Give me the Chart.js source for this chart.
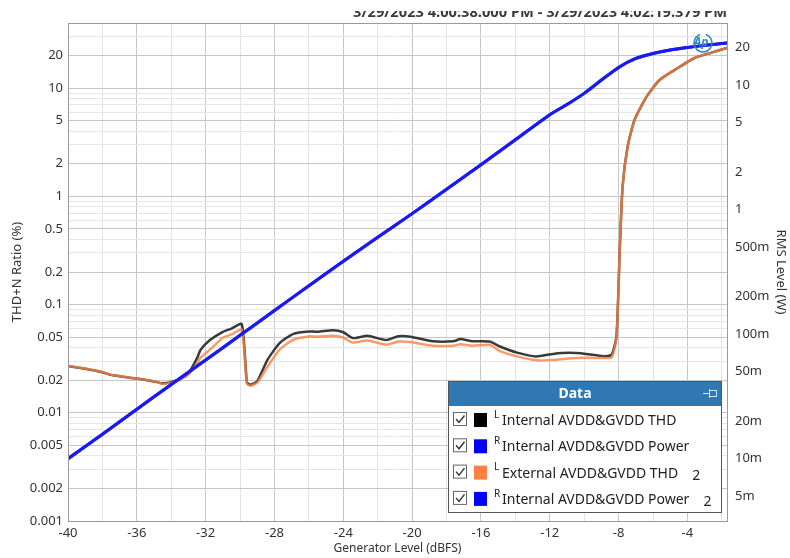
<!DOCTYPE html>
<html>
<head>
<meta charset="utf-8">
<script src="https://cdn.jsdelivr.net/npm/chart.js@4.4.1/dist/chart.umd.min.js"></script>
<style>
    html, body { margin: 0; padding: 0; background: #fff; }
    #wrap { width: 790px; height: 558px; position: relative; }
</style>
</head>
<body>
<div id="wrap"><canvas id="thdChart"></canvas></div>
<script>
// --- 1. Data ---
const thdX = [-40, -39, -38, -37.4, -36, -35, -34.5, -34, -33.5, -33, -32.5, -32.3, -31.75, -31, -30.5, -29.9,
    -29.6, -29.4, -29.0, -28.4, -27.7, -26.9, -26, -25.5, -24.6, -24, -23.45, -22.6, -21.5, -20.8, -20.1,
    -18.8, -17.6, -17.2, -16.5, -15.5, -14.9, -13.9, -12.8, -11.8, -10.9, -9.9, -8.9, -8.4, -8.12, -7.94,
    -7.77, -7.48, -7.07, -6.38, -5.62, -4.46, -3.59, -2.6, -1.7];

// Internal AVDD&GVDD THD+N (%)
const thdInternal = [0.027, 0.0255, 0.0237, 0.0222, 0.0207, 0.0195, 0.0187, 0.0193, 0.0205, 0.0232, 0.032, 0.038, 0.047, 0.056, 0.060, 0.066,
    0.019, 0.0182, 0.0196, 0.031, 0.044, 0.0537, 0.0565, 0.056, 0.058, 0.0555, 0.049, 0.0515, 0.047, 0.051, 0.0505,
    0.0458, 0.0458, 0.048, 0.0458, 0.0455, 0.041, 0.036, 0.0332, 0.035, 0.0358, 0.035, 0.0333, 0.0345, 0.052, 0.30,
    1.22, 2.86, 5.1, 8.3, 11.9, 15.7, 19.0, 21.3, 23.5];

// External AVDD&GVDD THD+N (%)
const thdExternal = [0.0272, 0.0257, 0.0238, 0.0223, 0.0207, 0.0196, 0.0185, 0.019, 0.0202, 0.0225, 0.0285, 0.0323, 0.0383, 0.0494, 0.053, 0.0585,
    0.0185, 0.0178, 0.019, 0.0267, 0.0383, 0.0473, 0.0508, 0.0505, 0.0515, 0.0495, 0.0445, 0.0466, 0.0425, 0.0455, 0.045,
    0.0417, 0.0417, 0.043, 0.0417, 0.0425, 0.0372, 0.0332, 0.0306, 0.0308, 0.0318, 0.0322, 0.0321, 0.0325, 0.050, 0.30,
    1.22, 2.86, 5.1, 8.3, 11.9, 15.7, 19.0, 21.3, 23.5];

const powerX = [-40, -38, -36, -34, -32, -30, -28, -26, -24, -22, -20, -18, -16, -14, -12, -11, -10, -9, -8, -7, -6, -5, -4, -3, -2, -1.7];

// RMS output power (W), both power traces sit on top of each other
const powerInternal = [0.0100, 0.0157, 0.0250, 0.0395, 0.062, 0.098, 0.155, 0.245, 0.385, 0.60, 0.93, 1.46, 2.3, 3.65, 5.8, 7.0, 8.6, 11.0, 13.9, 16.4, 18.0, 19.2, 20.1, 20.9, 21.6, 21.8];
const powerInternal2 = [0.0100, 0.0157, 0.0250, 0.0395, 0.062, 0.098, 0.155, 0.245, 0.385, 0.60, 0.93, 1.46, 2.3, 3.65, 5.8, 7.0, 8.6, 11.0, 13.9, 16.4, 18.0, 19.2, 20.1, 20.9, 21.6, 21.8];

const xTicks = [-40, -38, -36, -34, -32, -30, -28, -26, -24, -22, -20, -18, -16, -14, -12, -10, -8, -6, -4, -2];
const leftLabels = [0.001, 0.002, 0.005, 0.01, 0.02, 0.05, 0.1, 0.2, 0.5, 1, 2, 5, 10, 20];
const rightLabels = ['5m', '10m', '20m', '50m', '100m', '200m', '500m', '1', '2', '5', '10', '20'];

const legendItems = [
    { side: 'L', text: 'Internal AVDD&GVDD THD', color: '#000000', suffix: '' },
    { side: 'R', text: 'Internal AVDD&GVDD Power', color: '#0000ff', suffix: '' },
    { side: 'L', text: 'External AVDD&GVDD THD', color: '#ff8040', suffix: '2' },
    { side: 'R', text: 'Internal AVDD&GVDD Power', color: '#0000ff', suffix: '2' }
];

const timeRange = '3/29/2023 4:00:38.000 PM - 3/29/2023 4:02:19.379 PM';

// --- 2. Helpers ---
const FONT = '"Noto Sans", "Open Sans", sans-serif';
const toPoints = (xs, ys) => xs.map((x, i) => ({ x: x, y: ys[i] }));

// all 1..9 x decade values inside a range
const logTicks = (min, max) => {
    const out = [];
    for (let e = -4; e <= 2; e++) {
        for (let m = 1; m <= 9; m++) {
            const v = m * Math.pow(10, e);
            if (v >= min * 0.999 && v <= max * 1.001) out.push({ value: v });
        }
    }
    return out;
};
const mantissa = (v) => Math.round(v / Math.pow(10, Math.floor(Math.log10(v) + 1e-9)));
const rightLabelFor = (v) => {
    const txt = v < 1 ? Math.round(v * 1000) + 'm' : String(Math.round(v));
    return rightLabels.includes(txt) ? txt : '';
};

// --- 3. Plugins: frame, time stamp, logo and the "Data" panel ---
const decorPlugin = {
    id: 'decor',
    afterDraw(chart) {
        const ctx = chart.ctx;
        const a = chart.chartArea;
        ctx.save();

        // plot frame
        ctx.strokeStyle = '#9a9a9a';
        ctx.lineWidth = 1;
        ctx.strokeRect(Math.round(a.left) + 0.5, Math.round(a.top) + 0.5, Math.round(a.right - a.left), Math.round(a.bottom - a.top));

        // time stamp, top half cut off like the capture
        ctx.save();
        ctx.beginPath();
        ctx.rect(300, 11, 440, 10);
        ctx.clip();
        ctx.fillStyle = '#3a3a3a';
        ctx.font = 'bold 14px ' + FONT;
        const tw = ctx.measureText(timeRange).width;
        const fs = 14 * 374 / tw;
        ctx.font = 'bold ' + fs.toFixed(2) + 'px ' + FONT;
        ctx.textAlign = 'right';
        ctx.textBaseline = 'alphabetic';
        ctx.fillText(timeRange, 727, 17);
        ctx.restore();

        // Ap logo
        ctx.strokeStyle = '#2d86c4';
        ctx.lineWidth = 1.5;
        ctx.beginPath();
        ctx.arc(703, 43, 9, -0.4 * Math.PI, 1.4 * Math.PI);
        ctx.stroke();
        ctx.fillStyle = '#2d86c4';
        ctx.font = 'italic bold 12px ' + FONT;
        ctx.textAlign = 'center';
        ctx.textBaseline = 'middle';
        ctx.fillText('Ap', 701, 43);

        // legend panel
        const bx = 448, by = 381, bw = 273, bh = 131;
        ctx.fillStyle = '#ffffff';
        ctx.fillRect(bx, by, bw, bh);
        ctx.fillStyle = '#3078b4';
        ctx.fillRect(bx, by, bw, 25);
        ctx.strokeStyle = '#555';
        ctx.lineWidth = 1;
        ctx.strokeRect(bx + 0.5, by + 0.5, bw, bh);

        ctx.fillStyle = '#ffffff';
        ctx.font = 'bold 14px ' + FONT;
        ctx.textAlign = 'center';
        ctx.fillText('Data', 575, by + 13);

        // pin icon
        ctx.strokeStyle = '#d8e6f2';
        ctx.beginPath();
        ctx.moveTo(703, 393.5); ctx.lineTo(709, 393.5);
        ctx.moveTo(709.5, 389); ctx.lineTo(709.5, 398);
        ctx.stroke();
        ctx.strokeRect(709.5, 390.5, 7, 6);

        legendItems.forEach((item, i) => {
            const cy = 420 + i * 26.3;

            // check box
            ctx.strokeStyle = '#666';
            ctx.lineWidth = 1;
            ctx.fillStyle = '#fff';
            ctx.fillRect(453.5, cy - 7.5, 13, 13);
            ctx.strokeRect(453.5, cy - 7.5, 13, 13);
            ctx.strokeStyle = '#333';
            ctx.lineWidth = 1.4;
            ctx.beginPath();
            ctx.moveTo(456, cy - 1);
            ctx.lineTo(459, cy + 2.5);
            ctx.lineTo(464.5, cy - 4.5);
            ctx.stroke();

            // colour swatch
            ctx.fillStyle = item.color;
            ctx.fillRect(474, cy - 7, 13, 14);

            // L / R marker
            ctx.fillStyle = '#222';
            ctx.textAlign = 'left';
            ctx.textBaseline = 'middle';
            ctx.font = '10px ' + FONT;
            ctx.fillText(item.side, 494, cy - 5);

            ctx.font = '14px ' + FONT;
            ctx.fillText(item.text, 502, cy + 1);
            if (item.suffix) {
                const w = ctx.measureText(item.text).width;
                ctx.fillText(item.suffix, 502 + w + 14, cy + 3);
            }
        });
        ctx.restore();
    }
};

// --- 4. Chart ---
const ctx = document.getElementById('thdChart').getContext('2d');

new Chart(ctx, {
    type: 'line',
    data: {
        datasets: [
            {
                label: 'Internal AVDD&GVDD THD',
                data: toPoints(thdX, thdInternal),
                yAxisID: 'y',
                borderColor: '#3a3a3a',
                borderWidth: 2.5,
                order: 3
            },
            {
                label: 'Internal AVDD&GVDD Power',
                data: toPoints(powerX, powerInternal),
                yAxisID: 'y2',
                borderColor: '#1a1af5',
                borderWidth: 3,
                order: 0
            },
            {
                label: 'External AVDD&GVDD THD 2',
                data: toPoints(thdX, thdExternal),
                yAxisID: 'y',
                borderColor: 'rgba(247, 130, 70, 0.8)',
                borderWidth: 2.5,
                order: 2
            },
            {
                label: 'Internal AVDD&GVDD Power 2',
                data: toPoints(powerX, powerInternal2),
                yAxisID: 'y2',
                borderColor: '#1a1af5',
                borderWidth: 3,
                order: 1
            }
        ]
    },
    options: {
        responsive: true,
        maintainAspectRatio: false,
        animation: false,
        events: [],
        elements: {
            point: { radius: 0 },
            line: { tension: 0.2, borderCapStyle: 'round', borderJoinStyle: 'round' }
        },
        layout: { padding: { top: 23, left: 0, right: 0, bottom: 0 } },
        plugins: {
            legend: { display: false },
            tooltip: { enabled: false }
        },
        scales: {
            x: {
                type: 'linear',
                min: -40,
                max: -1.7,
                afterBuildTicks: (scale) => { scale.ticks = xTicks.map(v => ({ value: v })); },
                afterFit: (scale) => { scale.height = 37; },
                border: { display: false },
                grid: {
                    drawTicks: false,
                    color: (c) => (c.tick && c.tick.value % 4 === 0) ? '#c6c6c6' : '#e3e3e3'
                },
                ticks: {
                    padding: 4,
                    maxRotation: 0,
                    autoSkip: false,
                    color: '#333',
                    font: { family: FONT, size: 13 },
                    callback: (v) => (v % 4 === 0 ? String(v) : '')
                },
                title: {
                    display: true,
                    text: 'Generator Level (dBFS)',
                    color: '#333',
                    font: { family: FONT, size: 12 },
                    padding: { top: 0, bottom: 2 }
                }
            },
            y: {
                type: 'logarithmic',
                position: 'left',
                min: 0.001,
                max: 40,
                afterBuildTicks: (scale) => { scale.ticks = logTicks(0.001, 40); },
                afterFit: (scale) => { scale.width = 68; },
                border: { display: false },
                grid: {
                    drawTicks: false,
                    color: (c) => {
                        if (!c.tick) return '#e6e6e6';
                        const m = mantissa(c.tick.value);
                        return (m === 1 || m === 2 || m === 5) ? '#c6c6c6' : '#e6e6e6';
                    }
                },
                ticks: {
                    padding: 5,
                    autoSkip: false,
                    color: '#333',
                    font: { family: FONT, size: 13 },
                    callback: (v) => {
                        const n = Number(Number(v).toPrecision(2));
                        return leftLabels.includes(n) ? String(n) : '';
                    }
                },
                title: {
                    display: true,
                    text: 'THD+N Ratio (%)',
                    color: '#333',
                    font: { family: FONT, size: 13 },
                    padding: { top: 9, bottom: 0 }
                }
            },
            y2: {
                type: 'logarithmic',
                position: 'right',
                min: 0.00316,
                max: 31.6,
                afterBuildTicks: (scale) => { scale.ticks = logTicks(0.00316, 31.6); },
                afterFit: (scale) => { scale.width = 63; },
                border: { display: false },
                grid: { drawOnChartArea: false, drawTicks: false },
                ticks: {
                    padding: 8,
                    autoSkip: false,
                    color: '#333',
                    font: { family: FONT, size: 13 },
                    callback: (v) => rightLabelFor(Number(v))
                },
                title: {
                    display: true,
                    text: 'RMS Level (W)',
                    color: '#333',
                    font: { family: FONT, size: 13 },
                    padding: { top: 1, bottom: 0 }
                }
            }
        }
    },
    plugins: [decorPlugin]
});
</script>
</body>
</html>
